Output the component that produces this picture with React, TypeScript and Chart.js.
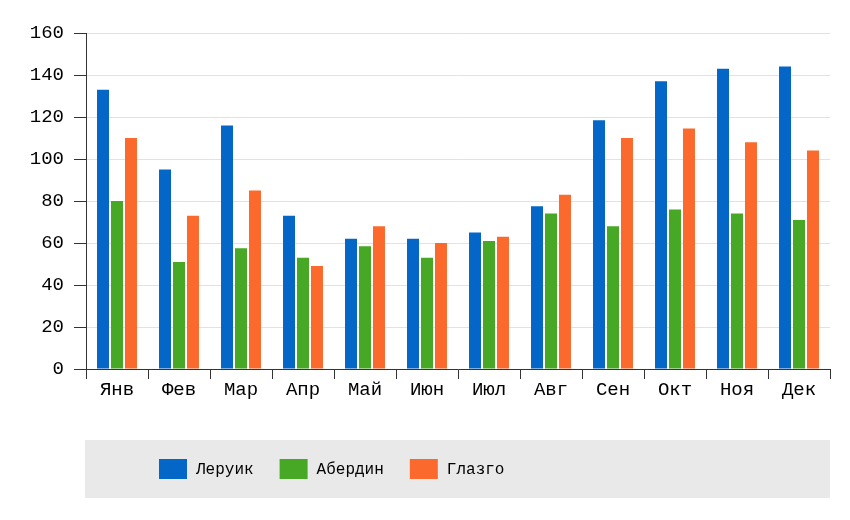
import React, { useEffect, useRef } from "react";
import { Chart, registerables } from "chart.js";

Chart.register(...registerables);

const months = ["Янв", "Фев", "Мар", "Апр", "Май", "Июн", "Июл", "Авг", "Сен", "Окт", "Ноя", "Дек"];
const lerwick = [133, 95, 116, 73, 62, 62, 65, 77.5, 118.5, 137, 143, 144];
const aberdeen = [80, 51, 57.5, 53, 58.5, 53, 61, 74, 68, 76, 74, 71];
const glasgow = [110, 73, 85, 49, 68, 60, 63, 83, 110, 114.5, 108, 104];
const seriesNames = ["Леруик", "Абердин", "Глазго"];
const seriesColors = ["#0467c8", "#47a825", "#fb6a2c"];
const yTicks = [0, 20, 40, 60, 80, 100, 120, 140, 160];

const FONT = "'Liberation Mono', 'DejaVu Sans Mono', monospace";

const legendPlugin = {
  id: "customLegend",
  afterDraw(chart: any) {
    const ctx = chart.ctx;
    const area = chart.chartArea;
    const top = area.bottom + 71;
    const h = 58;
    ctx.save();
    ctx.fillStyle = "#e9e9e9";
    ctx.fillRect(area.left - 1, top, area.right - area.left + 1, h);
    ctx.font = `16px ${FONT}`;
    ctx.textBaseline = "middle";
    ctx.textAlign = "left";
    let x = 159;
    const cy = top + h / 2;
    chart.data.datasets.forEach((ds: any) => {
      ctx.fillStyle = ds.backgroundColor;
      ctx.fillRect(x, cy - 10, 28, 20);
      x += 28 + 9;
      ctx.fillStyle = "#000";
      ctx.fillText(ds.label, x, cy + 1);
      x += ctx.measureText(ds.label).width + 26;
    });
    ctx.restore();
  },
};

export default function App() {
  const ref = useRef<HTMLCanvasElement | null>(null);
  useEffect(() => {
    if (!ref.current) return;
    const values = [lerwick, aberdeen, glasgow];
    const chart = new Chart(ref.current, {
      type: "bar",
      data: {
        labels: months,
        datasets: values.map((v, i) => ({
          label: seriesNames[i],
          data: v,
          backgroundColor: seriesColors[i],
          borderWidth: 0,
          barPercentage: 0.857,
          categoryPercentage: 0.677,
        })),
      },
      options: {
        responsive: false,
        animation: false,
        devicePixelRatio: 1,
        layout: { padding: { top: 33, right: 20, bottom: 80, left: 0 } },
        plugins: {
          legend: { display: false },
          tooltip: { enabled: false },
        },
        scales: {
          x: {
            offset: true,
            grid: {
              display: true,
              drawOnChartArea: false,
              offset: true,
              tickColor: "#333",
              tickLength: 10,
            },
            border: { display: true, color: "#333", width: 1 },
            ticks: {
              color: "#000",
              padding: 0,
              font: { family: FONT, size: 19 },
              maxRotation: 0,
              autoSkip: false,
            },
            afterFit(scale: any) {
              scale.height = 71;
            },
          },
          y: {
            min: yTicks[0],
            max: yTicks[yTicks.length - 1],
            afterBuildTicks(scale: any) {
              scale.ticks = yTicks.map((v) => ({ value: v }));
            },
            grid: {
              color: "#e2e2e2",
              tickColor: "#333",
              tickLength: 12,
            },
            border: { display: true, color: "#333", width: 1 },
            ticks: {
              color: "#000",
              padding: 10,
              font: { family: FONT, size: 19 },
            },
            afterFit(scale: any) {
              scale.width = 86;
            },
          },
        },
      },
      plugins: [legendPlugin],
    });
    return () => chart.destroy();
  }, []);
  return (
    <div style={{ position: "absolute", left: 0, top: 0, width: 850, height: 520, background: "#fff" }}>
      <canvas ref={ref} width={850} height={520} />
    </div>
  );
}
